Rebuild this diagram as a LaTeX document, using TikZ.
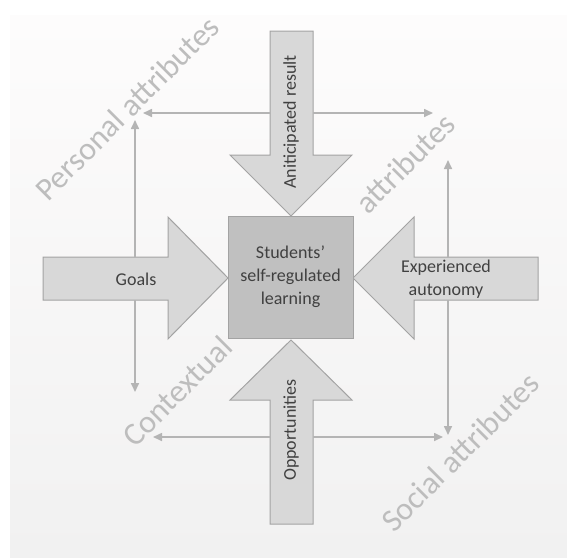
\documentclass[tikz,border=0pt]{standalone}
\usepackage{fontspec}
\setmainfont{Carlito}
\usetikzlibrary{arrows.meta}
\definecolor{arrfill}{HTML}{D8D8D8}
\definecolor{arrline}{HTML}{A3A3A3}
\definecolor{boxfill}{HTML}{C0C0C0}
\definecolor{thin}{HTML}{B4B4B4}
\definecolor{lbl}{HTML}{BDBDBD}
\definecolor{txt}{HTML}{404040}
\definecolor{bgtop}{HTML}{FDFCFC}
\definecolor{bgbot}{HTML}{F1F1F1}
\tikzset{
  bigarrow/.style={fill=arrfill, draw=arrline, line width=1pt, line join=miter},
  thinarrow/.style={draw=thin, line width=1.6pt, -{Triangle[length=9pt,width=8pt]}},
  outerlbl/.style={text=lbl, font=\fontsize{32}{36}\selectfont, rotate=45, inner sep=0pt},
  innerlbl/.style={text=txt, font=\fontsize{18}{23}\selectfont, align=center, inner sep=0pt}
}
\begin{document}
\begin{tikzpicture}[x=1pt,y=-1pt]
\useasboundingbox (0,0) rectangle (567,558);
\fill[white] (0,0) rectangle (567,558);
\shade[top color=bgtop, bottom color=bgbot] (10,15) rectangle (567,557);

% big arrows
\draw[bigarrow] (270,31) -- (313,31) -- (313,155) -- (352,155) -- (291,216) -- (230,155) -- (270,155) -- cycle;
\draw[bigarrow] (43,257) -- (168,257) -- (168,217) -- (228,278) -- (168,339) -- (168,300) -- (43,300) -- cycle;
\draw[bigarrow] (538,257) -- (414,257) -- (414,217) -- (353,278) -- (414,339) -- (414,300) -- (538,300) -- cycle;
\draw[bigarrow] (270,524) -- (313,524) -- (313,400) -- (352,400) -- (291,340) -- (230,400) -- (270,400) -- cycle;

% central box
\node[draw=arrline, fill=boxfill, line width=1pt, minimum width=125pt, minimum height=122pt, inner sep=0pt] (ssrl) at (290.5,277.5) {};
\node[innerlbl] (ssrltxt) at (290.5,277) {Students’\\self-regulated\\learning};

% labels in arrows
\node[innerlbl, rotate=90] (ant) at (291,122) {Aniticipated result};
\node[innerlbl, rotate=90] (opp) at (291,430) {Opportunities};
\node[innerlbl] (goals) at (136,279) {Goals};
\node[innerlbl] (exp) at (446,279) {Experienced\\autonomy};

% coordinates for connectors
\coordinate (aL) at (270,113);
\coordinate (aR) at (313,113);
\coordinate (pA) at (143,113);
\coordinate (sA) at (433,113);
\coordinate (gT) at (135,257);
\coordinate (gB) at (135,300);
\coordinate (pG) at (135,120);
\coordinate (cG) at (135,392);
\coordinate (eT) at (448,257);
\coordinate (eB) at (448,300);
\coordinate (sE) at (448,160);
\coordinate (oE) at (448,435);
\coordinate (oL) at (270,437);
\coordinate (oR) at (313,437);
\coordinate (cO) at (153,437);
\coordinate (oO) at (443,437);

\draw[thinarrow] (aL) -- (pA);
\draw[thinarrow] (aR) -- (sA);
\draw[thinarrow] (gT) -- (pG);
\draw[thinarrow] (gB) -- (cG);
\draw[thinarrow] (eT) -- (sE);
\draw[thinarrow] (eB) -- (oE);
\draw[thinarrow] (oL) -- (cO);
\draw[thinarrow] (oR) -- (oO);

% outer labels
\node[outerlbl] (pers) at (127,108) {Personal attributes};
\node[outerlbl] (attr) at (405,163) {attributes};
\node[outerlbl] (ctx) at (177,391) {Contextual};
\node[outerlbl] (soc) at (460,452) {Social attributes};
\end{tikzpicture}
\end{document}
